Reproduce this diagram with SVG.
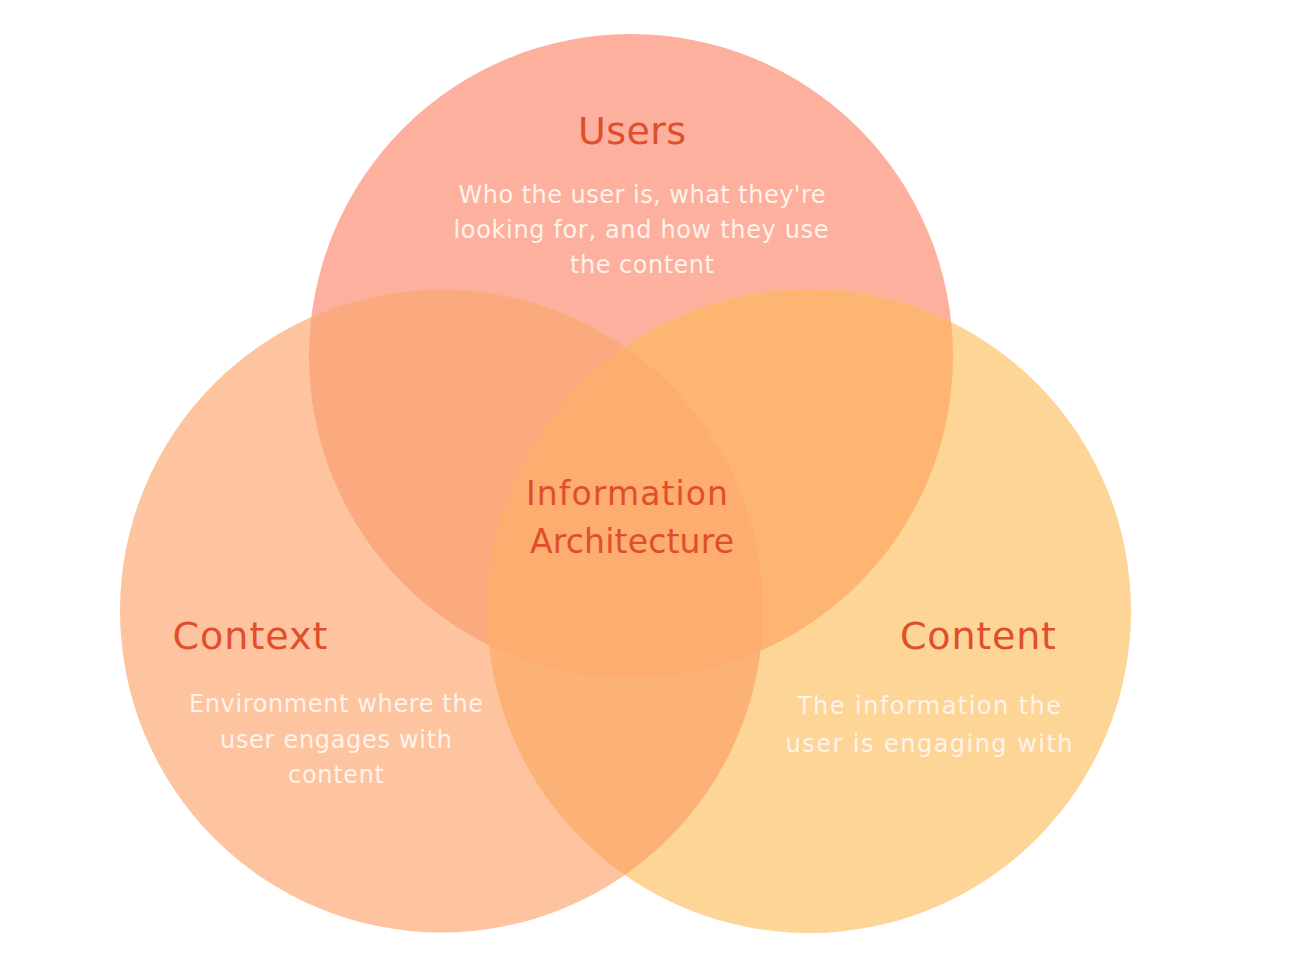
<svg xmlns="http://www.w3.org/2000/svg" width="1300" height="974" viewBox="0 0 1300 974">
<style>
.title{font-family:"DejaVu Sans","Liberation Sans",sans-serif;fill:#DF4F2C;text-anchor:middle}
.desc{font-family:"DejaVu Sans","Liberation Sans",sans-serif;font-size:24px;fill:#FFF3EC;text-anchor:middle}
</style>
<defs>
<clipPath id="cUsers"><circle cx="631" cy="356" r="322"/></clipPath>
<clipPath id="cContext"><circle cx="441.5" cy="611" r="321.5"/></clipPath>
<clipPath id="cContent"><circle cx="809" cy="611" r="322"/></clipPath>
</defs>
<rect width="1300" height="974" fill="#FFFFFF"/>
<g id="users-circle"><circle cx="631" cy="356" r="322" fill="#FDB09D"/></g>
<g id="context-circle"><circle cx="441.5" cy="611" r="321.5" fill="#FDC49F"/></g>
<g id="content-circle"><circle cx="809" cy="611" r="322" fill="#FDD597"/></g>
<g id="overlaps">
<circle cx="441.5" cy="611" r="321.5" fill="#FBA97F" clip-path="url(#cUsers)"/>
<circle cx="809" cy="611" r="322" fill="#FDB571" clip-path="url(#cUsers)"/>
<circle cx="809" cy="611" r="322" fill="#FCB276" clip-path="url(#cContext)"/>
<g clip-path="url(#cUsers)"><circle cx="809" cy="611" r="322" fill="#FCAD6F" clip-path="url(#cContext)"/></g>
</g>
<g id="users">
<text class="title" x="632" y="144" font-size="38" textLength="108">Users</text>
<text class="desc" x="642" y="203" textLength="367">Who the user is, what they're</text>
<text class="desc" x="641" y="238" textLength="375">looking for, and how they use</text>
<text class="desc" x="642" y="273" textLength="144">the content</text>
</g>
<g id="information-architecture">
<text class="title" x="627" y="505" font-size="33" textLength="202">Information</text>
<text class="title" x="632" y="553" font-size="33" textLength="204">Architecture</text>
</g>
<g id="context">
<text class="title" x="250" y="649" font-size="38" textLength="155">Context</text>
<text class="desc" x="336" y="712" textLength="294">Environment where the</text>
<text class="desc" x="336" y="748" textLength="232">user engages with</text>
<text class="desc" x="336" y="783" textLength="96">content</text>
</g>
<g id="content">
<text class="title" x="978" y="649" font-size="38" textLength="156">Content</text>
<text class="desc" x="929" y="714" textLength="264">The information the</text>
<text class="desc" x="929" y="752" textLength="287">user is engaging with</text>
</g>
</svg>
